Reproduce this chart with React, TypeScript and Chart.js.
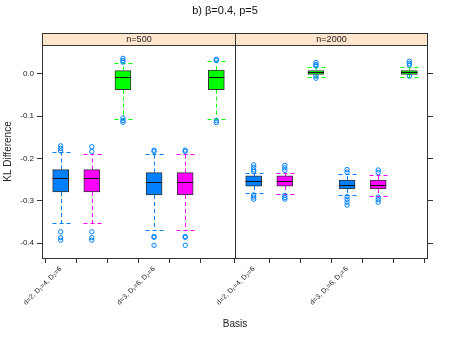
import React, { useEffect, useRef } from "react";
import { Chart, registerables } from "chart.js";

Chart.register(...registerables);

const chartTitle = "b) β=0.4, p=5";
const panels = ["n=500", "n=2000"];
const basisLabels = ["d=2, D₁=4, D₂=6", "", "", "d=3, D₁=6, D₂=6", "", ""];
const boxColors = ["#0080FF", "#FF00FF", "#00FF00", "#0080FF", "#FF00FF", "#00FF00"];
const yTickValues = [-0.4, -0.3, -0.2, -0.1, 0.0];
const xAxisTitle = "Basis";
const yAxisTitle = "KL Difference";

// n=500
const low500 = [-0.353, -0.353, -0.106, -0.368, -0.368, -0.107];
const q1_500 = [-0.279, -0.279, -0.037, -0.286, -0.286, -0.037];
const med500 = [-0.245, -0.245, -0.008, -0.256, -0.256, -0.008];
const q3_500 = [-0.226, -0.226, 0.008, -0.233, -0.233, 0.009];
const high500 = [-0.185, -0.188, 0.025, -0.188, -0.188, 0.031];
const out500 = [
  [-0.170, -0.176, -0.182, -0.373, -0.387, -0.393],
  [-0.172, -0.183, -0.373, -0.387, -0.393],
  [0.037, 0.032, 0.028, -0.104, -0.110, -0.114],
  [-0.180, -0.183, -0.384, -0.386, -0.405],
  [-0.180, -0.183, -0.384, -0.386, -0.405],
  [0.035, 0.032, -0.110, -0.115],
];

// n=2000
const low2000 = [-0.2825, -0.283, -0.006, -0.285, -0.288, -0.006];
const q1_2000 = [-0.265, -0.265, -0.001, -0.2715, -0.272, -0.001];
const med2000 = [-0.253, -0.253, 0.004, -0.263, -0.263, 0.004];
const q3_2000 = [-0.241, -0.241, 0.008, -0.251, -0.251, 0.008];
const high2000 = [-0.2335, -0.235, 0.016, -0.237, -0.238, 0.016];
const out2000 = [
  [-0.215, -0.221, -0.227, -0.231, -0.286, -0.291, -0.296],
  [-0.216, -0.222, -0.228, -0.287, -0.292, -0.296],
  [0.027, 0.022, 0.019, -0.005, -0.010],
  [-0.226, -0.232, -0.290, -0.296, -0.303, -0.310],
  [-0.227, -0.233, -0.291, -0.297, -0.303],
  [0.030, 0.025, 0.021, -0.005],
];

const PANEL_SPAN = 6.2;
const FONT = "'Liberation Sans', Arial, Helvetica, sans-serif";

type Box = { x: number; lo: number; q1: number; med: number; q3: number; hi: number; color: string; outliers: number[] };

function buildBoxes(): Box[] {
  const sets = [
    [low500, q1_500, med500, q3_500, high500, out500],
    [low2000, q1_2000, med2000, q3_2000, high2000, out2000],
  ] as any[];
  const boxes: Box[] = [];
  sets.forEach((s, p) => {
    for (let i = 0; i < 6; i++) {
      boxes.push({
        x: p * PANEL_SPAN + i + 1,
        lo: s[0][i],
        q1: s[1][i],
        med: s[2][i],
        q3: s[3][i],
        hi: s[4][i],
        color: boxColors[i],
        outliers: s[5][i],
      });
    }
  });
  return boxes;
}

export default function App() {
  const ref = useRef<HTMLCanvasElement | null>(null);

  useEffect(() => {
    if (!ref.current) return;
    const boxes = buildBoxes();
    const tickPositions = boxes.map((b) => b.x);
    const half = 8;

    const plugin = {
      id: "latticeBox",
      beforeDatasetsDraw(chart: any) {
        const ctx = chart.ctx;
        const xs = chart.scales.x;
        const ys = chart.scales.y;
        ctx.save();
        ctx.lineWidth = 1;
        ctx.setLineDash([4, 3]);
        boxes.forEach((b) => {
          const x = Math.round(xs.getPixelForValue(b.x)) + 0.5;
          const yq3 = ys.getPixelForValue(b.q3);
          const yq1 = ys.getPixelForValue(b.q1);
          const yhi = Math.round(ys.getPixelForValue(b.hi)) + 0.5;
          const ylo = Math.round(ys.getPixelForValue(b.lo)) + 0.5;
          ctx.strokeStyle = b.color;
          ctx.beginPath();
          ctx.moveTo(x, yq3);
          ctx.lineTo(x, yhi);
          ctx.moveTo(x, yq1);
          ctx.lineTo(x, ylo);
          ctx.stroke();
          ctx.beginPath();
          ctx.moveTo(x - half - 1, yhi);
          ctx.lineTo(x + half + 1, yhi);
          ctx.moveTo(x - half - 1, ylo);
          ctx.lineTo(x + half + 1, ylo);
          ctx.stroke();
        });
        ctx.restore();
      },
      afterDatasetsDraw(chart: any) {
        const ctx = chart.ctx;
        const xs = chart.scales.x;
        const ys = chart.scales.y;
        ctx.save();
        ctx.strokeStyle = "#111";
        ctx.lineWidth = 1;
        boxes.forEach((b) => {
          const x = xs.getPixelForValue(b.x);
          const y = Math.round(ys.getPixelForValue(b.med)) + 0.5;
          ctx.beginPath();
          ctx.moveTo(x - half, y);
          ctx.lineTo(x + half, y);
          ctx.stroke();
        });
        ctx.restore();
      },
      afterDraw(chart: any) {
        const ctx = chart.ctx;
        const a = chart.chartArea;
        const xs = chart.scales.x;
        const divX = Math.round(xs.getPixelForValue(PANEL_SPAN + 0.4)) + 0.5;
        const L = Math.round(a.left) + 0.5;
        const R = Math.round(a.right) - 0.5;
        const T = Math.round(a.top) + 0.5;
        const B = Math.round(a.bottom) + 0.5;
        const stripH = 12;
        ctx.save();
        // strips
        const edges = [[L, divX], [divX, R]];
        edges.forEach(([l, r], i) => {
          ctx.fillStyle = "#FFE5CC";
          ctx.fillRect(l, T - stripH, r - l, stripH);
          ctx.strokeStyle = "#333";
          ctx.lineWidth = 1;
          ctx.strokeRect(l, T - stripH, r - l, stripH);
          ctx.fillStyle = "#222";
          ctx.font = `9px ${FONT}`;
          ctx.textAlign = "center";
          ctx.textBaseline = "middle";
          ctx.fillText(panels[i], (l + r) / 2, T - stripH / 2 + 0.5);
        });
        // frame
        ctx.strokeStyle = "#333";
        ctx.lineWidth = 1;
        ctx.strokeRect(L, T, R - L, B - T);
        ctx.beginPath();
        ctx.moveTo(divX, T - stripH);
        ctx.lineTo(divX, B);
        ctx.stroke();
        // title
        ctx.fillStyle = "#111";
        ctx.font = `11px ${FONT}`;
        ctx.textAlign = "center";
        ctx.textBaseline = "middle";
        ctx.fillText(chartTitle, chart.width / 2, 11);
        ctx.restore();
      },
    };

    const outlierPoints: { x: number; y: number }[] = [];
    boxes.forEach((b) => b.outliers.forEach((v) => outlierPoints.push({ x: b.x, y: v })));

    const chart = new Chart(ref.current, {
      type: "bar",
      data: {
        datasets: [
          {
            type: "bar",
            data: boxes.map((b) => ({ x: b.x, y: [b.q1, b.q3] })) as any,
            backgroundColor: boxes.map((b) => b.color),
            borderColor: "#333",
            borderWidth: 1,
            borderSkipped: false,
            barThickness: 16,
          } as any,
          {
            type: "scatter",
            data: outlierPoints,
            pointStyle: "circle",
            pointRadius: 2.2,
            borderColor: "#0080FF",
            backgroundColor: "rgba(0,0,0,0)",
            borderWidth: 1,
          } as any,
        ],
      },
      options: {
        animation: false,
        responsive: false,
        events: [],
        layout: { padding: { top: 45, left: 0, right: 0, bottom: 0 } },
        plugins: { legend: { display: false }, tooltip: { enabled: false } },
        scales: {
          x: {
            type: "linear",
            min: 0.4,
            max: 2 * PANEL_SPAN + 0.4,
            offset: false,
            afterBuildTicks: (s: any) => {
              s.ticks = tickPositions.map((v) => ({ value: v }));
            },
            afterFit: (s: any) => {
              s.height = 79;
            },
            grid: { drawOnChartArea: false, drawTicks: true, tickLength: 5, color: "#333" },
            border: { display: false },
            ticks: {
              autoSkip: false,
              minRotation: 45,
              maxRotation: 45,
              padding: 2,
              color: "#222",
              font: { size: 7, family: FONT },
              callback: (_v: any, i: number) => basisLabels[i % 6],
            },
            title: {
              display: true,
              text: xAxisTitle,
              color: "#222",
              font: { size: 10, family: FONT },
              padding: { top: 0, bottom: 7 },
            },
          },
          y: {
            type: "linear",
            position: "left",
            min: -0.435,
            max: 0.0685,
            afterBuildTicks: (s: any) => {
              s.ticks = yTickValues.map((v) => ({ value: v }));
            },
            afterFit: (s: any) => {
              s.width = 42;
            },
            grid: { drawOnChartArea: false, drawTicks: true, tickLength: 5, color: "#333" },
            border: { display: false },
            ticks: {
              padding: 3,
              color: "#222",
              font: { size: 8, family: FONT },
              callback: (v: any) => Number(v).toFixed(1),
            },
            title: {
              display: true,
              text: yAxisTitle,
              color: "#222",
              font: { size: 10, family: FONT },
              padding: { top: 2, bottom: 0 },
            },
          },
          y2: {
            type: "linear",
            position: "right",
            min: -0.435,
            max: 0.0685,
            afterBuildTicks: (s: any) => {
              s.ticks = yTickValues.map((v) => ({ value: v }));
            },
            afterFit: (s: any) => {
              s.width = 22;
            },
            grid: { drawOnChartArea: false, drawTicks: true, tickLength: 5, color: "#333" },
            border: { display: false },
            ticks: { display: true, callback: () => "", padding: 0 },
          },
        },
      } as any,
      plugins: [plugin],
    });
    return () => chart.destroy();
  }, []);

  return (
    <div style={{ position: "fixed", left: 0, top: 0, width: 450, height: 337, background: "#fff" }}>
      <canvas ref={ref} width={450} height={337} style={{ width: 450, height: 337 }} />
    </div>
  );
}
